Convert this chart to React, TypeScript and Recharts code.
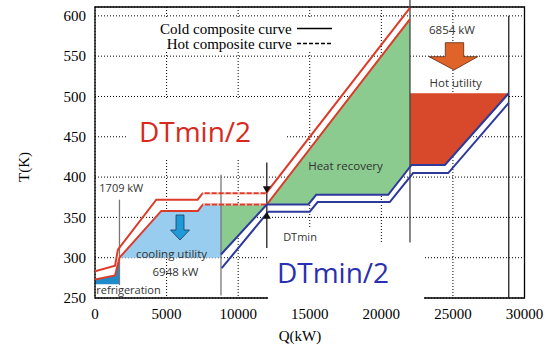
import React from 'react'
import {
  ComposedChart, Area, Line, Scatter, XAxis, YAxis, CartesianGrid, ReferenceLine, ReferenceArea,
} from 'recharts'

const X_TICKS = [0, 5000, 10000, 15000, 20000, 25000, 30000]
const Y_TICKS = [250, 300, 350, 400, 450, 500, 550, 600]

// hot composite curve, and the same one shifted down by DTmin/2
const hotCurve = [
  { x: 0, y: 283 }, { x: 1400, y: 290 }, { x: 1600, y: 310 }, { x: 4280, y: 372 },
  { x: 7170, y: 372 }, { x: 7520, y: 380 }, { x: 11950, y: 380 }, { x: 22000, y: 610 },
]
const hotShifted = [
  { x: 0, y: 273 }, { x: 1400, y: 278 }, { x: 1709, y: 300 }, { x: 4630, y: 358 },
  { x: 7190, y: 358 }, { x: 7540, y: 366 }, { x: 12000, y: 366 }, { x: 22000, y: 596 },
]
// cold composite curve, and the one shifted up by DTmin/2
const coldShifted = [
  { x: 8800, y: 304 }, { x: 12000, y: 366 }, { x: 14900, y: 366 }, { x: 15450, y: 378 },
  { x: 20480, y: 378 }, { x: 22110, y: 415 }, { x: 24440, y: 415 }, { x: 28900, y: 504 },
]
const coldCurve = [
  { x: 8850, y: 287 }, { x: 12100, y: 357 }, { x: 15000, y: 357 }, { x: 15550, y: 369 },
  { x: 20590, y: 369 }, { x: 22220, y: 405 }, { x: 24670, y: 405 }, { x: 28900, y: 492 },
]
// flat parts of the hot curves that show up dashed
const hotDashed = hotCurve.slice(5, 7)
const hotShiftedDashed = hotShifted.slice(5, 7)

// filled regions [low, high]
const refrigeration = [
  { x: 0, band: [267, 273] }, { x: 1400, band: [267, 278] }, { x: 1709, band: [267, 300] },
]
const coolingUtility = [
  { x: 1709, band: [300, 300] }, { x: 4630, band: [300, 358] }, { x: 7190, band: [300, 358] },
  { x: 7540, band: [300, 366] }, { x: 8800, band: [300, 366] },
]
const heatRecovery = [
  { x: 8800, band: [304, 366] }, { x: 12000, band: [366, 366] }, { x: 14900, band: [366, 433] },
  { x: 15450, band: [378, 445] }, { x: 20480, band: [378, 561] }, { x: 22000, band: [412, 596] },
]
const hotUtility = [
  { x: 22000, band: [412, 504] }, { x: 22110, band: [415, 504] }, { x: 24440, band: [415, 504] },
  { x: 28900, band: [504, 504] },
]

const dtminTips = [{ x: 12000, y: 380, dir: 'down' }, { x: 12000, y: 357, dir: 'up' }]

const markers = [
  { x: 1709, y1: 266, y2: 372, color: '#777' },
  { x: 8800, y1: 253, y2: 403, color: '#777' },
  { x: 12000, y1: 312, y2: 418, color: '#222' },
  { x: 22000, y1: 319, y2: 620, color: '#444' },
  { x: 28900, y1: 250, y2: 600, color: '#222' },
]

const RED = '#DD3B2A'
const BLUE = '#2D3A9C'
const SERIF = '"Liberation Serif", "Times New Roman", serif'
const SANS = '"Open Sans", "Noto Sans", sans-serif'

function Tip(props: any) {
  const { cx, cy, payload } = props
  if (cx == null || cy == null) return null
  const d = payload.dir === 'down' ? -7 : 7
  return <polygon points={`${cx - 4},${cy + d} ${cx + 4},${cy + d} ${cx},${cy}`} fill="#111" />
}

export default function App() {
  const tick = { fontSize: 15, fill: '#000', fontFamily: SERIF }
  return (
    <div style={{ position: 'absolute', left: 0, top: 0, width: 552, height: 345, background: '#fff' }}>
      <ComposedChart width={552} height={345} margin={{ top: 7, right: 27.5, left: 35, bottom: 17 }}>
        <CartesianGrid stroke="#000" strokeDasharray="1 2" />
        <XAxis type="number" dataKey="x" domain={[0, 30000]} ticks={X_TICKS} height={30}
          tick={tick} tickLine={false} axisLine={false} tickMargin={4} allowDataOverflow />
        <YAxis type="number" domain={[250, 611]} ticks={Y_TICKS} width={60}
          tick={tick} tickLine={false} axisLine={false} tickMargin={3} allowDataOverflow />
        <Area data={refrigeration} dataKey="band" type="linear" stroke="none" fill="#1E8CCB" fillOpacity={1} isAnimationActive={false} />
        <Area data={coolingUtility} dataKey="band" type="linear" stroke="none" fill="#99CDEF" fillOpacity={1} isAnimationActive={false} />
        <Area data={heatRecovery} dataKey="band" type="linear" stroke="none" fill="#8BCB8F" fillOpacity={1} isAnimationActive={false} />
        <Area data={hotUtility} dataKey="band" type="linear" stroke="none" fill="#D8492B" fillOpacity={1} isAnimationActive={false} />
        {markers.map((m) => (
          <ReferenceLine key={m.x} segment={[{ x: m.x, y: m.y1 }, { x: m.x, y: m.y2 }]}
            stroke={m.color} strokeWidth={1.3} ifOverflow="visible" />
        ))}
        <Line data={hotCurve} dataKey="y" type="linear" stroke={RED} strokeWidth={2} dot={false} isAnimationActive={false} />
        <Line data={hotShifted} dataKey="y" type="linear" stroke={RED} strokeWidth={2} dot={false} isAnimationActive={false} />
        <Line data={hotDashed} dataKey="y" type="linear" stroke="#fff" strokeOpacity={0.7} strokeWidth={2.2} strokeDasharray="2 5" dot={false} isAnimationActive={false} />
        <Line data={hotShiftedDashed} dataKey="y" type="linear" stroke="#fff" strokeOpacity={0.7} strokeWidth={2.2} strokeDasharray="2 5" dot={false} isAnimationActive={false} />
        <Line data={coldShifted} dataKey="y" type="linear" stroke={BLUE} strokeWidth={2} dot={false} isAnimationActive={false} />
        <Line data={coldCurve} dataKey="y" type="linear" stroke={BLUE} strokeWidth={2} dot={false} isAnimationActive={false} />
        <Scatter data={dtminTips} dataKey="y" shape={Tip} isAnimationActive={false} />
        <ReferenceArea x1={0} x2={30000} y1={250} y2={611} fill="none" stroke="#000" strokeWidth={1.3} />
      </ComposedChart>

      <svg width={552} height={345} style={{ position: 'absolute', left: 0, top: 0, pointerEvents: 'none' }}>
        {/* legend */}
        <rect x={150} y={19} width={186} height={33} fill="#fff" />
        <text x={291.7} y={28.5} textAnchor="end" dominantBaseline="central" fontFamily={SERIF} fontSize={15}>Cold composite curve</text>
        <line x1={297} x2={332} y1={28.5} y2={28.5} stroke="#000" strokeWidth={1.5} />
        <text x={291.7} y={44} textAnchor="end" dominantBaseline="central" fontFamily={SERIF} fontSize={15}>Hot composite curve</text>
        <line x1={297} x2={332} y1={43.5} y2={43.5} stroke="#000" strokeWidth={1.5} strokeDasharray="4 2" />

        {/* DTmin/2 labels */}
        <rect x={128} y={99} width={157} height={59} fill="#fff" />
        <text x={195} y={131} textAnchor="middle" dominantBaseline="central" fontFamily={SANS} fontSize={28} fill="#D8291C">DTmin/2</text>
        <rect x={268} y={243} width={156} height={57} fill="#fff" />
        <rect x={280} y={229} width={40} height={14} fill="#fff" />
        <text x={333} y={272} textAnchor="middle" dominantBaseline="central" fontFamily={SANS} fontSize={28} fill="#2A30B0">DTmin/2</text>
        <text x={300} y={236} textAnchor="middle" dominantBaseline="central" fontFamily={SANS} fontSize={11} fill="#333">DTmin</text>

        {/* region labels */}
        <text x={345.5} y={165} textAnchor="middle" dominantBaseline="central" fontFamily={SANS} fontSize={11.5} fill="#333">Heat recovery</text>
        <text x={171.5} y={253} textAnchor="middle" dominantBaseline="central" fontFamily={SANS} fontSize={11.5} fill="#333">cooling utility</text>
        <text x={175.5} y={271.5} textAnchor="middle" dominantBaseline="central" fontFamily={SANS} fontSize={11.5} fill="#333">6948 kW</text>
        <text x={121.3} y={187} textAnchor="middle" dominantBaseline="central" fontFamily={SANS} fontSize={11} fill="#333">1709 kW</text>
        <text x={128.5} y={289.5} textAnchor="middle" dominantBaseline="central" fontFamily={SANS} fontSize={11} fill="#333">refrigeration</text>
        <text x={452} y={29.3} textAnchor="middle" dominantBaseline="central" fontFamily={SANS} fontSize={11.5} fill="#333">6854 kW</text>
        <text x={455.7} y={82.3} textAnchor="middle" dominantBaseline="central" fontFamily={SANS} fontSize={11.5} fill="#333">Hot utility</text>

        {/* utility arrows */}
        <polygon points="176,215 184,215 184,230 189.5,230 180,240 170.5,230 176,230" fill="#1F9AD6" stroke="#1A3A5A" strokeWidth={0.8} />
        <polygon points="445.3,42.7 463.7,42.7 463.7,56.7 477.7,56.7 454,70 429,56.7 445.3,56.7" fill="#E0642A" stroke="#5A2A10" strokeWidth={0.8} />

        {/* axis titles */}
        <text x={24} y={167} textAnchor="middle" dominantBaseline="central" fontFamily={SERIF} fontSize={15} transform="rotate(-90 24 167)">T(K)</text>
        <text x={300} y={336} textAnchor="middle" dominantBaseline="central" fontFamily={SERIF} fontSize={15}>Q(kW)</text>
      </svg>
    </div>
  )
}
